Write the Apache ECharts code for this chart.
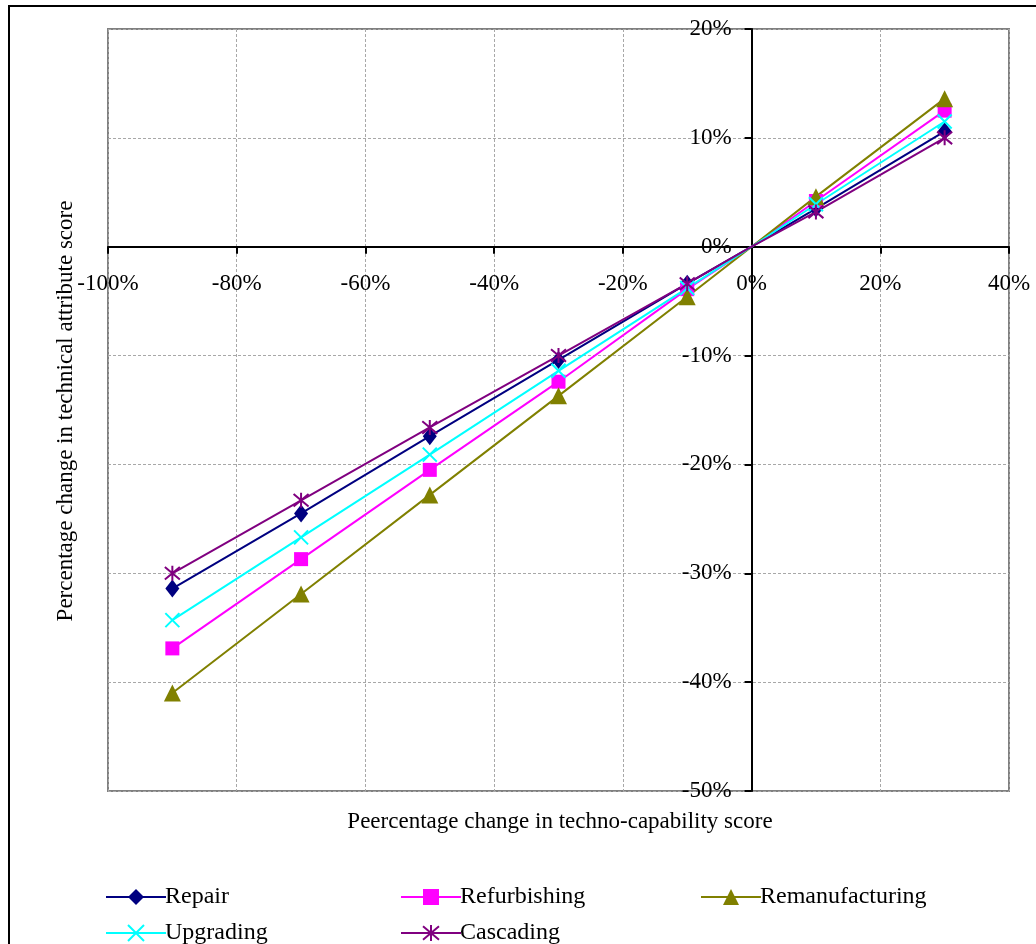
<!DOCTYPE html>
<html>
<head>
<meta charset="utf-8">
<script src="https://cdn.jsdelivr.net/npm/echarts@6/dist/echarts.min.js"></script>
<style>
html,body{margin:0;padding:0;background:#fff;}
#chart{width:1036px;height:944px;}
</style>
</head>
<body>
<div id="chart"></div>
<script>
// Data (x = percentage change in techno-capability score, y = percentage change in technical attribute score)
var xValues = [-90, -70, -50, -30, -10, 0, 10, 30];
var repair = [-31.4, -24.5, -17.4, -10.4, -3.4, 0, 3.5, 10.6];
var refurbishing = [-36.9, -28.7, -20.5, -12.4, -3.9, 0, 4.2, 12.5];
var remanufacturing = [-41.0, -31.9, -22.8, -13.7, -4.6, 0, 4.6, 13.6];
var upgrading = [-34.3, -26.7, -19.1, -11.4, -3.8, 0, 3.9, 11.5];
var cascading = [-30.0, -23.3, -16.6, -10.0, -3.4, 0, 3.2, 10.0];
var seriesNames = ['Repair', 'Refurbishing', 'Remanufacturing', 'Upgrading', 'Cascading'];
var xTitle = 'Peercentage change in techno-capability score';
var yTitle = 'Percentage change in technical attribute score';
var xMin = -100, xMax = 40, xStep = 20;
var yMin = -50, yMax = 20, yStep = 10;

var FONT = '"Liberation Serif", "Times New Roman", serif';
var W = 1036, H = 944;
var G = { left: 108, top: 29, right: 27, bottom: 153 };
var gw = W - G.left - G.right, gh = H - G.top - G.bottom;
// offsets that move the axes onto the zero lines (labels follow)
var xAxisOffset = -(gh * (0 - yMin) / (yMax - yMin));
var yAxisOffset = -(gw * (0 - xMin) / (xMax - xMin));

function pts(ys) {
  return xValues.map(function (x, i) {
    if (x === 0) return { value: [x, ys[i]], symbol: 'none' };
    return [x, ys[i]];
  });
}

var xPath = 'path://M0,0L10,10M10,0L0,10';
var starPath = 'path://M0,0L10,10M10,0L0,10M5,-1L5,11';

function lineSeries(name, data, color, symbol, size, strokeOnly) {
  return {
    name: name,
    type: 'line',
    data: pts(data),
    symbol: symbol,
    symbolSize: size,
    showAllSymbol: true,
    lineStyle: { color: color, width: 2 },
    itemStyle: strokeOnly
      ? { color: 'none', borderColor: color, borderWidth: 2 }
      : { color: color, borderColor: color, borderWidth: 0 },
    emphasis: { disabled: true },
    animation: false,
    z: 3
  };
}

var chart = echarts.init(document.getElementById('chart'), null, { renderer: 'canvas' });

var legendCommon = {
  orient: 'vertical',
  height: 120,
  itemWidth: 60,
  itemHeight: 20,
  itemGap: 12,
  lineStyle: { width: 2 },
  textStyle: { fontFamily: FONT, fontSize: 24, color: '#000', padding: [0, 0, 0, -6] },
  selectedMode: false
};

var pct = function (v) { return v + '%'; };

var option = {
  backgroundColor: '#fff',
  animation: false,
  grid: {
    left: G.left, top: G.top, right: G.right, bottom: G.bottom,
    show: true, borderColor: '#808080', borderWidth: 2, backgroundColor: 'transparent'
  },
  xAxis: {
    type: 'value', min: xMin, max: xMax, interval: xStep,
    position: 'bottom', offset: xAxisOffset,
    axisLine: { show: true, onZero: false, lineStyle: { color: '#000', width: 2 } },
    axisTick: { show: true, length: 7, lineStyle: { color: '#000', width: 2 } },
    axisLabel: { fontFamily: FONT, fontSize: 23, color: '#000', margin: 26, formatter: pct },
    splitLine: { show: true, lineStyle: { color: '#a8a8a8', width: 1, type: [3, 2] } }
  },
  yAxis: {
    type: 'value', min: yMin, max: yMax, interval: yStep,
    position: 'left', offset: yAxisOffset,
    axisLine: { show: true, onZero: false, lineStyle: { color: '#000', width: 2 } },
    axisTick: { show: true, length: 7, lineStyle: { color: '#000', width: 2 } },
    axisLabel: { fontFamily: FONT, fontSize: 23, color: '#000', margin: 20, formatter: pct },
    splitLine: { show: true, lineStyle: { color: '#a8a8a8', width: 1, type: [3, 2] } }
  },
  legend: [
    Object.assign({}, legendCommon, { left: 100, top: 880, data: [seriesNames[0], seriesNames[3]] }),
    Object.assign({}, legendCommon, { left: 395, top: 880, data: [seriesNames[1], seriesNames[4]] }),
    Object.assign({}, legendCommon, { left: 695, top: 880, data: [seriesNames[2]] })
  ],
  graphic: [
    { type: 'rect', shape: { x: 9, y: 6, width: 1200, height: 1200 }, style: { fill: 'none', stroke: '#000', lineWidth: 2 }, z: -1, silent: true },
    { type: 'text', x: 560, y: 822, style: { text: xTitle, font: '23px ' + FONT, fill: '#000', textAlign: 'center', textVerticalAlign: 'middle' } },
    { type: 'text', x: 66, y: 411, rotation: Math.PI / 2, style: { text: yTitle, font: '23px ' + FONT, fill: '#000', textAlign: 'center', textVerticalAlign: 'middle' } }
  ],
  series: [
    lineSeries(seriesNames[0], repair, '#000080', 'diamond', [14, 18], false),
    lineSeries(seriesNames[1], refurbishing, '#ff00ff', 'rect', 14, false),
    lineSeries(seriesNames[2], remanufacturing, '#808000', 'triangle', 17, false),
    lineSeries(seriesNames[3], upgrading, '#00ffff', xPath, 14, true),
    lineSeries(seriesNames[4], cascading, '#800080', starPath, 15, true)
  ]
};
chart.setOption(option);
</script>
</body>
</html>
